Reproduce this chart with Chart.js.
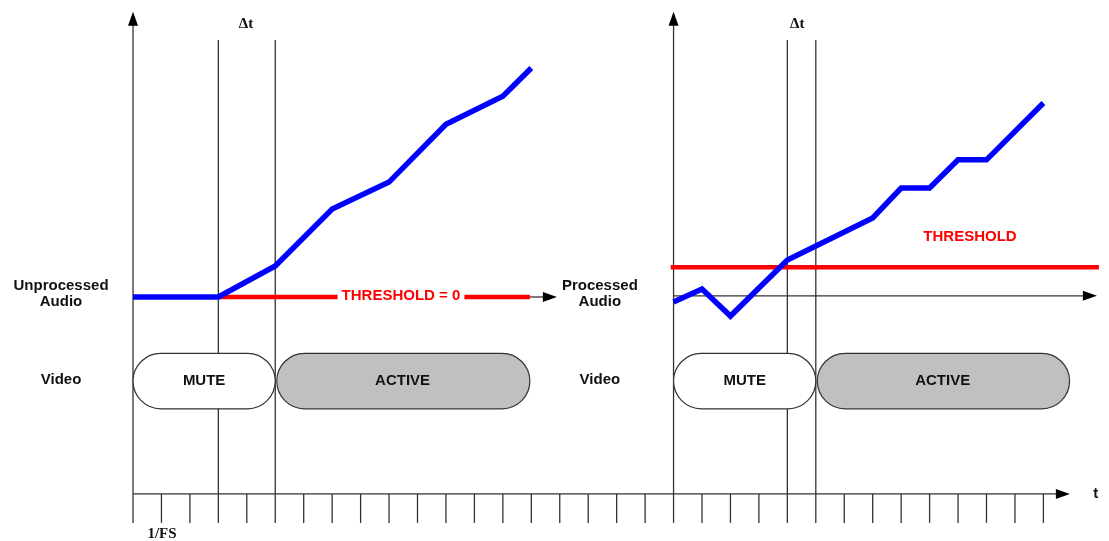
<!DOCTYPE html>
<html>
<head>
<meta charset="utf-8">
<script src="https://cdn.jsdelivr.net/npm/chart.js@4.4.0/dist/chart.umd.min.js"></script>
<style>
  html, body { margin: 0; padding: 0; background: #fff; }
  #wrap { width: 1109px; height: 541px; }
</style>
</head>
<body>
<div id="wrap"><canvas id="myChart"></canvas></div>
<script>
// time is counted in sample periods (1/FS), audio level in arbitrary units
var unprocTime = [0, 3, 5, 7, 9, 11, 13, 14];
var unprocLevel = [0, 0, 1.09, 3.09, 4.04, 6.07, 7.06, 8.05];
var procTime = [19, 20, 21, 23, 26, 27, 28, 29, 30, 32];
var procLevel = [-0.18, 0.28, -0.67, 1.3, 2.78, 3.83, 3.83, 4.82, 4.82, 6.82];
var thresholdUnproc = 0;
var thresholdProc = 1.05;
var sampleTicks = [0, 1, 2, 3, 4, 5, 6, 7, 8, 9, 10, 11, 12, 13, 14, 15, 16,
    17, 18, 19, 20, 21, 22, 23, 24, 25, 26, 27, 28, 29, 30, 31, 32];
var deltaUnproc = [3, 5];
var deltaProc = [23, 24];
var videoStates = ['MUTE', 'ACTIVE'];
var videoUnproc = [0, 5, 13.95];
var videoProc = [19, 24, 32.92];

var INK = '#333';

function arrowHead(ctx, x, y, dir) {
    var len = 14, hw = 5;
    ctx.beginPath();
    if (dir === 'up') {
        ctx.moveTo(x, y);
        ctx.lineTo(x - hw, y + len);
        ctx.lineTo(x + hw, y + len);
    } else {
        ctx.moveTo(x, y);
        ctx.lineTo(x - len, y - hw);
        ctx.lineTo(x - len, y + hw);
    }
    ctx.closePath();
    ctx.fillStyle = '#000';
    ctx.fill();
}

function line(ctx, x1, y1, x2, y2) {
    ctx.beginPath();
    ctx.moveTo(x1, y1);
    ctx.lineTo(x2, y2);
    ctx.stroke();
}

function pill(ctx, x1, x2, y1, y2, fill) {
    var r = (y2 - y1) / 2;
    ctx.beginPath();
    ctx.moveTo(x1 + r, y1);
    ctx.lineTo(x2 - r, y1);
    ctx.arc(x2 - r, y1 + r, r, -Math.PI / 2, Math.PI / 2);
    ctx.lineTo(x1 + r, y2);
    ctx.arc(x1 + r, y1 + r, r, Math.PI / 2, Math.PI * 1.5);
    ctx.closePath();
    ctx.fillStyle = fill;
    ctx.fill();
    ctx.lineWidth = 1.2;
    ctx.strokeStyle = INK;
    ctx.stroke();
}

function text(ctx, str, x, y, font, color, align) {
    ctx.font = font;
    ctx.fillStyle = color || '#111';
    ctx.textAlign = align || 'center';
    ctx.textBaseline = 'middle';
    ctx.fillText(str, x, y);
}

var SANS = 'bold 15px "Liberation Sans", Arial, sans-serif';
var SERIF = 'bold 15px "Liberation Serif", "Times New Roman", serif';

var diagram = {
    id: 'diagram',
    beforeDatasetsDraw: function (chart) {
        var ctx = chart.ctx, xs = chart.scales.x, ys = chart.scales.y;
        var X = function (v) { return xs.getPixelForValue(v); };
        var Y = function (v) { return ys.getPixelForValue(v); };
        var axisY = Y(-6.92), tickEnd = Y(-7.94), topY = Y(10.03), dtTop = Y(9.03);
        ctx.save();
        ctx.strokeStyle = INK;
        ctx.lineWidth = 1.3;

        // time axis and sample ticks
        line(ctx, X(0), axisY, X(32.93) - 10, axisY);
        arrowHead(ctx, X(32.93), axisY, 'right');
        sampleTicks.forEach(function (t) { line(ctx, X(t), axisY, X(t), tickEnd); });

        // vertical axes
        [0, 19].forEach(function (t) {
            line(ctx, X(t), axisY, X(t), topY + 8);
            arrowHead(ctx, X(t), topY, 'up');
        });
        // delta t markers
        deltaUnproc.concat(deltaProc).forEach(function (t) {
            line(ctx, X(t), dtTop, X(t), axisY);
        });

        // audio baselines
        line(ctx, X(13.9), Y(thresholdUnproc), X(14.9) - 10, Y(thresholdUnproc));
        arrowHead(ctx, X(14.9), Y(thresholdUnproc), 'right');
        line(ctx, X(19), Y(0.04), X(33.88) - 10, Y(0.04));
        arrowHead(ctx, X(33.88), Y(0.04), 'right');

        // video state pills
        [videoUnproc, videoProc].forEach(function (b) {
            var top = Y(-1.98), bot = Y(-3.93), mid = (top + bot) / 2;
            pill(ctx, X(b[0]), X(b[1]), top, bot, '#fff');
            pill(ctx, X(b[1]) + 1.5, X(b[2]), top, bot, '#c0c0c0');
            text(ctx, videoStates[0], (X(b[0]) + X(b[1])) / 2, mid, SANS);
            text(ctx, videoStates[1], (X(b[1]) + X(b[2])) / 2, mid, SANS);
        });
        ctx.restore();
    },
    afterDatasetsDraw: function (chart) {
        var ctx = chart.ctx, xs = chart.scales.x, ys = chart.scales.y;
        var X = function (v) { return xs.getPixelForValue(v); };
        var Y = function (v) { return ys.getPixelForValue(v); };
        ctx.save();
        // threshold = 0 label sits in a gap of the red line
        ctx.font = SANS;
        var lbl = 'THRESHOLD = 0';
        var w = ctx.measureText(lbl).width;
        ctx.fillStyle = '#fff';
        ctx.fillRect(X(9.42) - w / 2 - 4, Y(0) - 4, w + 8, 8);
        text(ctx, lbl, X(9.42), Y(0) - 1, SANS, '#ff0000');
        text(ctx, 'THRESHOLD', X(29.42), Y(2.13), SANS, '#ff0000');

        text(ctx, 'Unprocessed', X(-2.53), Y(0.39), SANS);
        text(ctx, 'Audio', X(-2.53), Y(-0.18), SANS);
        text(ctx, 'Video', X(-2.53), Y(-2.92), SANS);
        text(ctx, 'Processed', X(16.41), Y(0.39), SANS);
        text(ctx, 'Audio', X(16.41), Y(-0.18), SANS);
        text(ctx, 'Video', X(16.41), Y(-2.92), SANS);

        text(ctx, '\u0394t', X(3.97), Y(9.6), SERIF);
        text(ctx, '\u0394t', X(23.35), Y(9.6), SERIF);
        text(ctx, '1/FS', X(1.02), Y(-8.33), SERIF);
        text(ctx, 't', X(33.75), Y(-6.92), SANS, '#111', 'left');
        ctx.restore();
    }
};

function pts(xv, yv) {
    return xv.map(function (x, i) { return { x: x, y: yv[i] }; });
}

var ctx = document.getElementById('myChart').getContext('2d');
var myChart = new Chart(ctx, {
    type: 'scatter',
    data: {
        datasets: [{
            label: 'Unprocessed audio',
            data: pts(unprocTime, unprocLevel),
            borderColor: '#0000ff',
            borderWidth: 5.5
        }, {
            label: 'Processed audio',
            data: pts(procTime, procLevel),
            borderColor: '#0000ff',
            borderWidth: 5.5
        }, {
            label: 'Threshold = 0',
            data: pts([3, 13.95], [thresholdUnproc, thresholdUnproc]),
            borderColor: '#ff0000',
            borderWidth: 4.5
        }, {
            label: 'Threshold',
            data: pts([18.9, 33.95], [thresholdProc, thresholdProc]),
            borderColor: '#ff0000',
            borderWidth: 4.5
        }]
    },
    options: {
        responsive: true,
        maintainAspectRatio: false,
        animation: false,
        showLine: true,
        elements: {
            point: { radius: 0, hoverRadius: 0 },
            line: { tension: 0, fill: false, borderCapStyle: 'butt', borderJoinStyle: 'miter' }
        },
        layout: { padding: 0 },
        plugins: {
            legend: { display: false },
            tooltip: { enabled: false }
        },
        scales: {
            x: { type: 'linear', display: false, min: -4.6749, max: 34.3058 },
            y: { type: 'linear', display: false, min: -8.5764, max: 10.4394 }
        }
    },
    plugins: [diagram]
});
</script>
</body>
</html>
